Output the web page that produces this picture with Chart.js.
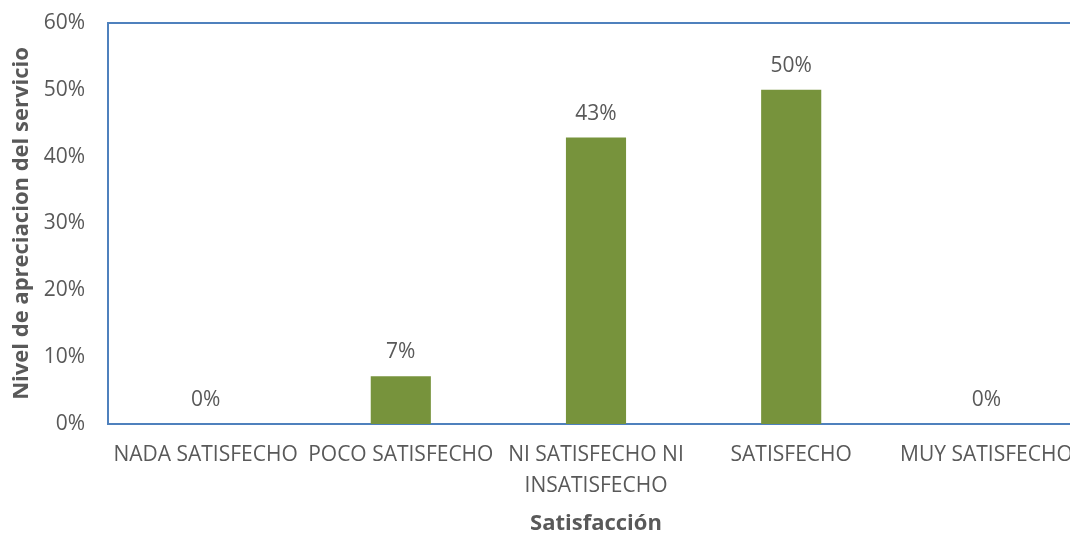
<!DOCTYPE html>
<html><head><meta charset="utf-8">
<script src="https://cdn.jsdelivr.net/npm/chart.js@4/dist/chart.umd.min.js"></script>
<style>html,body{margin:0;padding:0;overflow:hidden;background:#fff}#wrap{width:1084px;height:533px;position:relative}</style>
</head><body><div id="wrap"><canvas id="c"></canvas></div>
<script>
const categories = ['NADA SATISFECHO', 'POCO SATISFECHO', ['NI SATISFECHO NI', 'INSATISFECHO'], 'SATISFECHO', 'MUY SATISFECHO'];
const values = [0, 7.14, 42.86, 50, 0];
const valueLabels = ['0%', '7%', '43%', '50%', '0%'];
const yTicks = [0, 10, 20, 30, 40, 50, 60];
const FONT = '"Open Sans", sans-serif';
const BLUE = '#4F81BD';
const GRAY = '#595959';

const frame = {
  id: 'frame',
  afterDatasetsDraw(chart) {
    const {ctx, chartArea: a} = chart;
    ctx.save();
    ctx.strokeStyle = BLUE; ctx.lineWidth = 2;
    ctx.beginPath();
    ctx.moveTo(a.left, a.bottom); ctx.lineTo(a.left, a.top); ctx.lineTo(a.right, a.top); ctx.lineTo(a.right, a.bottom);
    ctx.stroke();
    ctx.fillStyle = GRAY; ctx.font = '21px ' + FONT; ctx.textAlign = 'center'; ctx.textBaseline = 'middle';
    const meta = chart.getDatasetMeta(0);
    meta.data.forEach((bar, i) => {
      const y = chart.scales.y.getPixelForValue(values[i]);
      ctx.fillText(valueLabels[i], bar.x, y - 24);
    });
    ctx.restore();
  }
};

new Chart(document.getElementById('c'), {
  type: 'bar',
  data: { labels: categories, datasets: [{ data: values, backgroundColor: '#77933C', barPercentage: 0.308, categoryPercentage: 1 }] },
  options: {
    responsive: true, maintainAspectRatio: false, animation: false,
    layout: { padding: { top: 23, left: 0, right: 0, bottom: 0 } },
    plugins: { legend: { display: false }, tooltip: { enabled: false } },
    scales: {
      x: {
        afterFit(s) { s.height = 109; s.paddingLeft = 0; s.paddingRight = 0; },
        grid: { display: false, drawTicks: false },
        border: { display: true, color: BLUE, width: 2 },
        ticks: { color: GRAY, font: { family: FONT, size: 21, lineHeight: 1.45 }, padding: 16, maxRotation: 0, autoSkip: false },
        title: { display: true, text: 'Satisfacción', color: GRAY, font: { family: FONT, size: 22, weight: 'bold', lineHeight: 1 }, padding: { top: 0, bottom: -2 } }
      },
      y: {
        min: 0, max: 60,
        afterBuildTicks(s) { s.ticks = yTicks.map(v => ({ value: v })); },
        afterFit(s) { s.width = 108; s.paddingTop = 0; s.paddingBottom = 0; },
        grid: { display: false, drawTicks: false },
        border: { display: true, color: BLUE, width: 2 },
        ticks: { color: GRAY, font: { family: FONT, size: 21 }, padding: 23, callback: v => v + '%' },
        title: { display: true, text: 'Nivel de apreciacion del servicio', color: GRAY, font: { family: FONT, size: 22, weight: 'bold' }, padding: { top: 9, bottom: 0 } }
      }
    }
  },
  plugins: [frame]
});
</script></body></html>
